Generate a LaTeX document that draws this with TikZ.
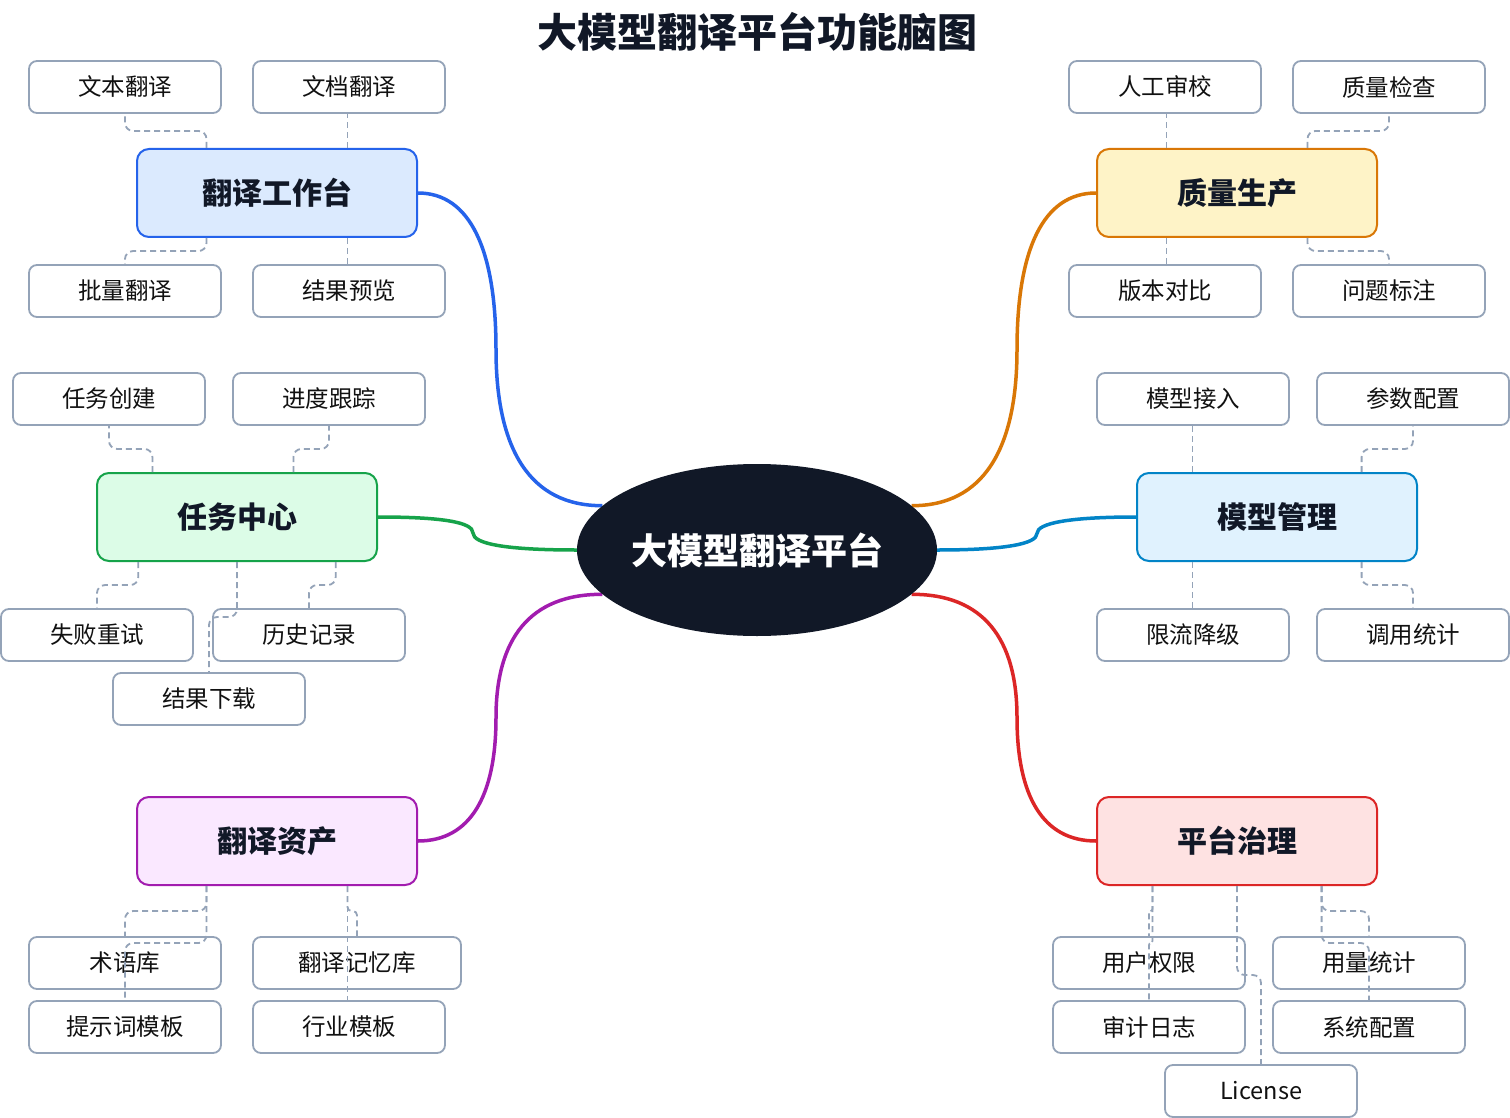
\documentclass[tikz,border=0pt]{standalone}
\usepackage{fontspec}
\setmainfont{Noto Sans CJK SC}
\usetikzlibrary{shapes.geometric,calc}
\definecolor{ink}{HTML}{111827}
\definecolor{leaftext}{HTML}{111111}
\definecolor{navy}{HTML}{111827}
\definecolor{leafc}{HTML}{94A3B8}
\definecolor{bAd}{HTML}{2563EB}\definecolor{bAf}{HTML}{DBEAFE}
\definecolor{bBd}{HTML}{16A34A}\definecolor{bBf}{HTML}{DCFCE7}
\definecolor{bCd}{HTML}{A21CAF}\definecolor{bCf}{HTML}{FAE8FF}
\definecolor{bDd}{HTML}{D97706}\definecolor{bDf}{HTML}{FEF3C7}
\definecolor{bEd}{HTML}{0284C7}\definecolor{bEf}{HTML}{E0F2FE}
\definecolor{bFd}{HTML}{DC2626}\definecolor{bFf}{HTML}{FEE2E2}
\pgfdeclarelayer{bg}
\pgfsetlayers{bg,main}
\newcommand\dlinkto[3][8pt]{%
  \coordinate (dmid) at ($(#2)!.5!(#3)$);
  \draw[dline, rounded corners=#1] (#2) -- (#2 |- dmid) -| (#3);}
\newcommand\slinkto[2]{\draw[dline] (#1) -- (#1 |- #2);}
\begin{document}
\begin{tikzpicture}[x=1pt,y=-1pt,
  leaf/.style={draw=leafc, line width=1.8pt, rounded corners=8pt, fill=white,
    minimum width=192pt, minimum height=52pt, inner sep=0pt,
    font=\fontsize{23.5}{28}\selectfont, text=leaftext},
  branch/.style={line width=2pt, rounded corners=12pt, minimum width=280pt,
    minimum height=88pt, inner sep=0pt,
    font=\bfseries\fontsize{30}{36}\selectfont, text=ink},
  dline/.style={draw=leafc, line width=1.8pt, dash pattern=on 6pt off 4pt},
  mlink/.style={line width=3.5pt}]
\useasboundingbox (0,0) rectangle (1510,1118);
\begin{pgfonlayer}{bg}
\fill[white] (0,0) rectangle (1510,1118);
\end{pgfonlayer}

\node[font=\bfseries\fontsize{40}{48}\selectfont, text=ink] (title) at (757,32) {大模型翻译平台功能脑图};

\node[ellipse, fill=navy, minimum width=360pt, minimum height=172pt, inner sep=0pt,
  text=white, font=\bfseries\fontsize{36}{42}\selectfont] (c) at (757,550) {大模型翻译平台};

% branches
\node[branch, draw=bAd, fill=bAf] (b1) at (277,193) {翻译工作台};
\node[branch, draw=bBd, fill=bBf] (b2) at (237,517) {任务中心};
\node[branch, draw=bCd, fill=bCf] (b3) at (277,841) {翻译资产};
\node[branch, draw=bDd, fill=bDf] (b4) at (1237,193) {质量生产};
\node[branch, draw=bEd, fill=bEf] (b5) at (1277,517) {模型管理};
\node[branch, draw=bFd, fill=bFf] (b6) at (1237,841) {平台治理};

% main links
\begin{pgfonlayer}{bg}
\draw[mlink, bAd] (b1.east) .. controls (470,193) and (496,249.5) .. (496,349.5)
  .. controls (496,449.5) and (530,506) .. (c.164);
\draw[mlink, bBd] (b2.east) .. controls (441,517) and (473,522) .. (473,533)
  .. controls (473,544) and (507,550) .. (c.west);
\draw[mlink, bCd] (b3.east) .. controls (470,841) and (496,796.5) .. (496,717.5)
  .. controls (496,638.5) and (530,594) .. (c.196);
\draw[mlink, bDd] (b4.west) .. controls (1043,193) and (1017,249.5) .. (1017,349.5)
  .. controls (1017,449.5) and (983,506) .. (c.16);
\draw[mlink, bEd] (b5.west) .. controls (1070,517) and (1037,523) .. (1037,533.5)
  .. controls (1037,544) and (1004,550) .. (c.east);
\draw[mlink, bFd] (b6.west) .. controls (1043,841) and (1017,796.5) .. (1017,717.5)
  .. controls (1017,638.5) and (983,594) .. (c.344);
\end{pgfonlayer}

% leaves
\node[leaf] (l11) at (125,87) {文本翻译};
\node[leaf] (l12) at (349,87) {文档翻译};
\node[leaf] (l13) at (125,291) {批量翻译};
\node[leaf] (l14) at (349,291) {结果预览};
\node[leaf] (l21) at (109,399) {任务创建};
\node[leaf] (l22) at (329,399) {进度跟踪};
\node[leaf] (l23) at (97,635) {失败重试};
\node[leaf] (l24) at (309,635) {历史记录};
\node[leaf] (l25) at (209,699) {结果下载};
\node[leaf] (l31) at (125,963) {术语库};
\node[leaf, minimum width=208pt] (l32) at (357,963) {翻译记忆库};
\node[leaf] (l33) at (125,1027) {提示词模板};
\node[leaf] (l34) at (349,1027) {行业模板};
\node[leaf] (l41) at (1165,87) {人工审校};
\node[leaf] (l42) at (1389,87) {质量检查};
\node[leaf] (l43) at (1165,291) {版本对比};
\node[leaf] (l44) at (1389,291) {问题标注};
\node[leaf] (l51) at (1193,399) {模型接入};
\node[leaf] (l52) at (1413,399) {参数配置};
\node[leaf] (l53) at (1193,635) {限流降级};
\node[leaf] (l54) at (1413,635) {调用统计};
\node[leaf] (l61) at (1149,963) {用户权限};
\node[leaf] (l62) at (1369,963) {用量统计};
\node[leaf] (l63) at (1149,1027) {审计日志};
\node[leaf] (l64) at (1369,1027) {系统配置};
\node[leaf] (l65) at (1261,1091) {License};

% attach points
\coordinate (b1t1) at ($(b1.north west)!.25!(b1.north east)$);
\coordinate (b1t2) at ($(b1.north west)!.75!(b1.north east)$);
\coordinate (b1b1) at ($(b1.south west)!.25!(b1.south east)$);
\coordinate (b1b2) at ($(b1.south west)!.75!(b1.south east)$);
\coordinate (b2t1) at ($(b2.north west)!.2!(b2.north east)$);
\coordinate (b2t2) at ($(b2.north west)!.7!(b2.north east)$);
\coordinate (b2b1) at ($(b2.south west)!.15!(b2.south east)$);
\coordinate (b2b2) at ($(b2.south west)!.5!(b2.south east)$);
\coordinate (b2b3) at ($(b2.south west)!.85!(b2.south east)$);
\coordinate (b3b1) at ($(b3.south west)!.25!(b3.south east)$);
\coordinate (b3b2) at ($(b3.south west)!.75!(b3.south east)$);
\coordinate (b4t1) at ($(b4.north west)!.25!(b4.north east)$);
\coordinate (b4t2) at ($(b4.north west)!.75!(b4.north east)$);
\coordinate (b4b1) at ($(b4.south west)!.25!(b4.south east)$);
\coordinate (b4b2) at ($(b4.south west)!.75!(b4.south east)$);
\coordinate (b5t1) at ($(b5.north west)!.2!(b5.north east)$);
\coordinate (b5t2) at ($(b5.north west)!.8!(b5.north east)$);
\coordinate (b5b1) at ($(b5.south west)!.2!(b5.south east)$);
\coordinate (b5b2) at ($(b5.south west)!.8!(b5.south east)$);
\coordinate (b6b1) at ($(b6.south west)!.2!(b6.south east)$);
\coordinate (b6b2) at ($(b6.south west)!.5!(b6.south east)$);
\coordinate (b6b3) at ($(b6.south west)!.8!(b6.south east)$);

% dashed links
\dlinkto{b1t1}{l11.south}
\slinkto{b1t2}{l12.south}
\dlinkto{b1b1}{l13.north}
\slinkto{b1b2}{l14.north}

\dlinkto{b2t1}{l21.south}
\dlinkto{b2t2}{l22.south}
\dlinkto{b2b1}{l23.north}
\dlinkto{b2b3}{l24.north}
\dlinkto{b2b2}{l25.north}

\dlinkto{b3b1}{l31.north}
\dlinkto[4pt]{b3b2}{l32.north}
\dlinkto{b3b1}{l33.north}
\slinkto{b3b2}{l34.north}

\slinkto{b4t1}{l41.south}
\dlinkto{b4t2}{l42.south}
\slinkto{b4b1}{l43.north}
\dlinkto{b4b2}{l44.north}

\slinkto{b5t1}{l51.south}
\dlinkto{b5t2}{l52.south}
\slinkto{b5b1}{l53.north}
\dlinkto{b5b2}{l54.north}

\dlinkto[2pt]{b6b1}{l61.north}
\dlinkto[2pt]{b6b1}{l63.north}
\dlinkto{b6b3}{l62.north}
\dlinkto{b6b3}{l64.north}
\dlinkto{b6b2}{l65.north}
\end{tikzpicture}
\end{document}
